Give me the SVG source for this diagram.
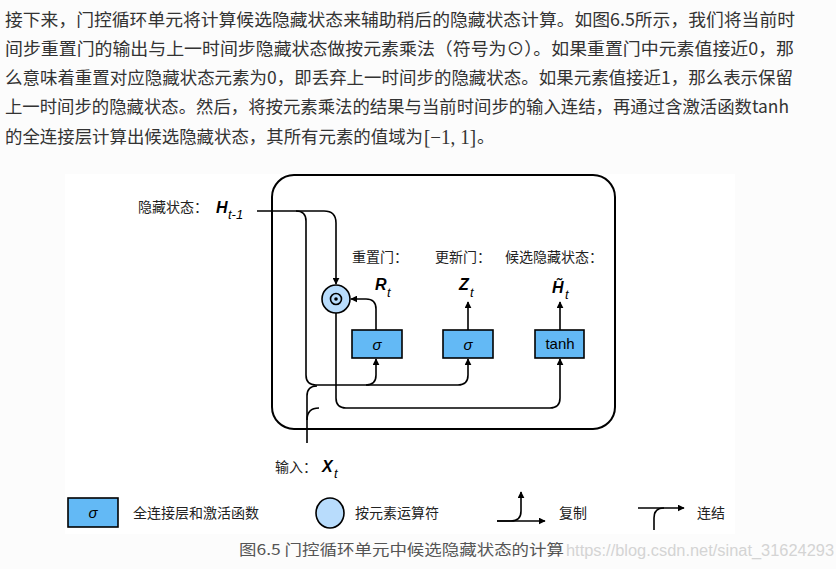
<svg xmlns="http://www.w3.org/2000/svg" width="836" height="569" viewBox="0 0 836 569">
<defs>
<marker id="ah" viewBox="0 0 10 10" refX="9" refY="5" markerWidth="7" markerHeight="7" markerUnits="userSpaceOnUse" orient="auto">
<path d="M0,0 L10,5 L0,10 Z" fill="#000"/>
</marker>
<style>
.para{font-family:"Noto Sans CJK SC","Noto Sans",sans-serif;font-size:17.5px;fill:#333}
.cjk{font-family:"Noto Sans CJK SC","Liberation Sans",sans-serif;font-size:14px;fill:#222}
.var{font-family:"Liberation Sans",Arial,sans-serif;font-size:16px;font-weight:bold;font-style:italic;fill:#000}
.sub{font-family:"Liberation Sans",Arial,sans-serif;font-size:13px;font-style:italic;fill:#000}
.box{fill:#63b9f5;stroke:#000;stroke-width:1.6}
.op{fill:#b8dcfc;stroke:#000;stroke-width:1.6}
.ln{fill:none;stroke:#000;stroke-width:1.6}
.lbl{font-family:"Liberation Sans",Arial,sans-serif;font-size:15px;fill:#000;text-anchor:middle}
</style>
</defs>
<rect x="0" y="0" width="836" height="569" fill="#fcfcfc"/>
<rect x="65" y="174" width="670" height="360" fill="#ffffff"/>

<g id="paragraph">
<text class="para" x="5" y="26" textLength="790" lengthAdjust="spacingAndGlyphs">接下来，门控循环单元将计算候选隐藏状态来辅助稍后的隐藏状态计算。如图6.5所示，我们将当前时</text>
<text class="para" x="5" y="55" textLength="789" lengthAdjust="spacingAndGlyphs">间步重置门的输出与上一时间步隐藏状态做按元素乘法（符号为⊙）。如果重置门中元素值接近0，那</text>
<text class="para" x="5" y="84" textLength="788" lengthAdjust="spacingAndGlyphs">么意味着重置对应隐藏状态元素为0，即丢弃上一时间步的隐藏状态。如果元素值接近1，那么表示保留</text>
<text class="para" x="5" y="113" textLength="784" lengthAdjust="spacingAndGlyphs">上一时间步的隐藏状态。然后，将按元素乘法的结果与当前时间步的输入连结，再通过含激活函数tanh</text>
<text class="para" x="5" y="143" textLength="418" lengthAdjust="spacingAndGlyphs">的全连接层计算出候选隐藏状态，其所有元素的值域为</text>
<text x="424" y="144" font-family="Liberation Serif,serif" font-size="20" fill="#333" textLength="52" lengthAdjust="spacingAndGlyphs">[−1, 1]</text>
<text class="para" x="477" y="143">。</text>
</g>

<g id="frame">
<rect x="272" y="175" width="343" height="254" rx="22" ry="22" fill="none" stroke="#000" stroke-width="2"/>
</g>

<g id="connectors">
<path class="ln" d="M257,211 H324 Q336,211 336,223 V284" marker-end="url(#ah)"/>
<path class="ln" d="M296,211 Q306,211 306,221 V375 Q306,385 316,385 H458 Q468,385 468,375 V359" marker-end="url(#ah)"/>
<path class="ln" d="M366,385 Q376,385 376,375 V359" marker-end="url(#ah)"/>
<path class="ln" d="M376,330 V309 Q376,299 366,299 H351" marker-end="url(#ah)"/>
<path class="ln" d="M336,313 V398 Q336,408 346,408 H550 Q560,408 560,398 V359" marker-end="url(#ah)"/>
<path class="ln" d="M307,443 V396 Q307,386 317,386"/>
<path class="ln" d="M307,420 Q307,408 319,408"/>
<path class="ln" d="M468,330 V302" marker-end="url(#ah)"/>
<path class="ln" d="M560,330 V302" marker-end="url(#ah)"/>
</g>

<g id="label-h">
<text class="cjk" x="138" y="212">隐藏状态：</text>
<text class="var" x="216" y="213">H</text>
<text class="sub" x="228" y="219">t-1</text>
</g>

<g id="op-mult">
<circle class="op" cx="336" cy="299" r="14"/>
<circle cx="336" cy="299" r="5.5" fill="none" stroke="#000" stroke-width="1.6"/>
<circle cx="336" cy="299" r="1.8" fill="#000"/>
</g>

<g id="reset-gate">
<text class="cjk" x="352" y="262">重置门：</text>
<rect class="box" x="352" y="330" width="50" height="28"/>
<text class="lbl" x="377" y="350" font-style="italic">σ</text>
<text class="var" x="375" y="290">R</text>
<text class="sub" x="387" y="297">t</text>
</g>

<g id="update-gate">
<text class="cjk" x="435" y="262">更新门：</text>
<rect class="box" x="443" y="330" width="50" height="28"/>
<text class="lbl" x="468" y="350" font-style="italic">σ</text>
<text class="var" x="459" y="290">Z</text>
<text class="sub" x="470" y="297">t</text>
</g>

<g id="candidate">
<text class="cjk" x="505" y="262">候选隐藏状态：</text>
<rect class="box" x="535" y="330" width="49" height="28"/>
<text class="lbl" x="560" y="349" font-size="14">tanh</text>
<text class="var" x="552" y="293" font-family="DejaVu Sans,sans-serif" font-size="15">H̃</text>
<text class="sub" x="565" y="299">t</text>
</g>

<g id="label-x">
<text class="cjk" x="275" y="472">输入：</text>
<text class="var" x="322" y="472">X</text>
<text class="sub" x="334" y="478">t</text>
</g>

<g id="legend">
<rect class="box" x="68" y="498" width="50" height="29"/>
<text class="lbl" x="93" y="518" font-style="italic">σ</text>
<text class="cjk" x="133" y="518">全连接层和激活函数</text>
<ellipse class="op" cx="330" cy="513" rx="14" ry="15"/>
<text class="cjk" x="355" y="518">按元素运算符</text>
<path class="ln" d="M497,521 H545" marker-end="url(#ah)"/>
<path class="ln" d="M497,521 H511 Q521,521 521,511 V492" marker-end="url(#ah)"/>
<text class="cjk" x="559" y="518">复制</text>
<path class="ln" d="M638,508 H684" marker-end="url(#ah)"/>
<path class="ln" d="M654,530 V518 Q654,508 664,508"/>
<text class="cjk" x="697" y="518">连结</text>
</g>

<g id="caption">
<text x="239" y="555" font-family="Noto Sans CJK SC,Liberation Sans,sans-serif" font-size="15" fill="#555" textLength="325" lengthAdjust="spacingAndGlyphs">图6.5 门控循环单元中候选隐藏状态的计算</text>
<text x="566" y="556" font-family="Liberation Sans,Arial,sans-serif" font-size="16" fill="#d4d4d4" textLength="268" lengthAdjust="spacingAndGlyphs">https://blog.csdn.net/sinat_31624293</text>
</g>
</svg>
